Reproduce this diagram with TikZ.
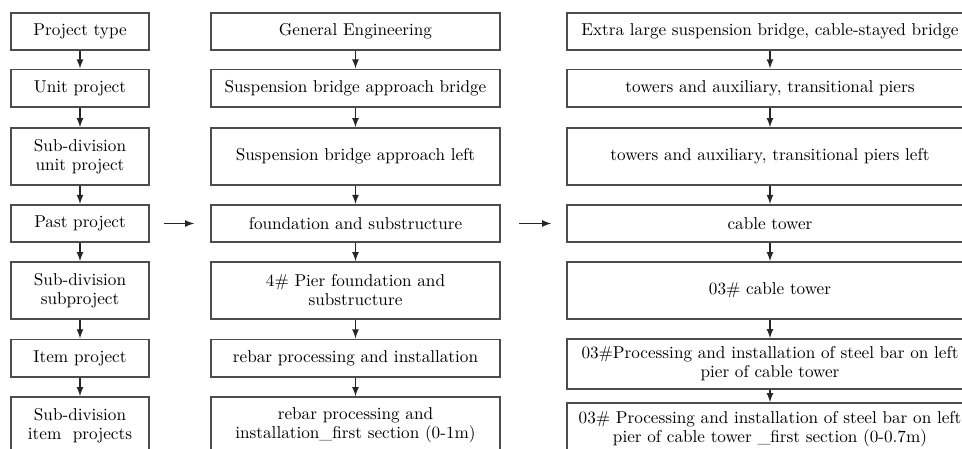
\documentclass[tikz,border=0pt]{standalone}
\usepackage{amsmath}
\usetikzlibrary{arrows}

\begin{document}
\begin{tikzpicture}[x=0.6pt, y=-0.6pt,
    box/.style={draw=black!70, line width=1pt, fill=white, align=center, inner sep=2pt,
      font=\fontsize{10.3}{11.4}\selectfont},
    lbox/.style={box, minimum width=82.8pt},
    mbox/.style={box, minimum width=173.4pt},
    rbox/.style={box, minimum width=243.6pt},
    low/.style={minimum height=22.4pt},
    high/.style={minimum height=34.2pt},
    flow/.style={-latex, line width=0.9pt, black!85}]
  \useasboundingbox (0,0) rectangle (962,448);
  \clip (0,0) rectangle (962,448);

  % left column: levels
  \node[lbox, low]  (l1) at (80,31.5)  {Project type};
  \node[lbox, low]  (l2) at (80,88)    {Unit project};
  \node[lbox, high] (l3) at (80,156.5) {Sub-division\\unit project};
  \node[lbox, low]  (l4) at (80,223.5) {Past project};
  \node[lbox, high] (l5) at (80,290.5) {Sub-division\\subproject};
  \node[lbox, low]  (l6) at (80,358)   {Item project};
  \node[lbox, high] (l7) at (80,425.5) {Sub-division\\item\ \ projects};

  % middle column
  \node[mbox, low]  (m1) at (355.5,31.5)  {General Engineering};
  \node[mbox, low]  (m2) at (355.5,88)    {Suspension bridge approach bridge};
  \node[mbox, high] (m3) at (355.5,156.5) {Suspension bridge approach left};
  \node[mbox, low]  (m4) at (355.5,223.5) {foundation and substructure};
  \node[mbox, high] (m5) at (355.5,290.5) {4\# Pier foundation and\\substructure};
  \node[mbox, low]  (m6) at (355.5,358)   {rebar processing and installation};
  \node[mbox, high] (m7) at (355.5,425.5) {rebar processing and\\installation\_first section (0-1m)};

  % right column
  \node[rbox, low]  (r1) at (770,31.5)  {Extra large suspension bridge, cable-stayed bridge};
  \node[rbox, low]  (r2) at (770,88)    {towers and auxiliary, transitional piers};
  \node[rbox, high] (r3) at (770,156.5) {towers and auxiliary, transitional piers left};
  \node[rbox, low]  (r4) at (770,223.5) {cable tower};
  \node[rbox, high] (r5) at (770,290.5) {03\# cable tower};
  \node[rbox, minimum height=30pt] (r6) at (770,364) {03\#Processing and installation of steel bar on left\\pier of cable tower};
  \node[rbox, minimum height=31.2pt] (r7) at (770,429) {03\# Processing and installation of steel bar on left\\pier of cable tower \_first section (0-0.7m)};

  \foreach \c in {l,m,r}
    \foreach \i/\k in {1/2,2/3,3/4,4/5,5/6,6/7}
      \draw[flow] (\c\i.south) -- (\c\k.north);

  \draw[flow, shorten <=8.4pt, shorten >=9.6pt] (l4.east) -- (m4.west);
  \draw[flow, shorten <=10.8pt, shorten >=9pt] (m4.east) -- (r4.west);
\end{tikzpicture}
\end{document}
